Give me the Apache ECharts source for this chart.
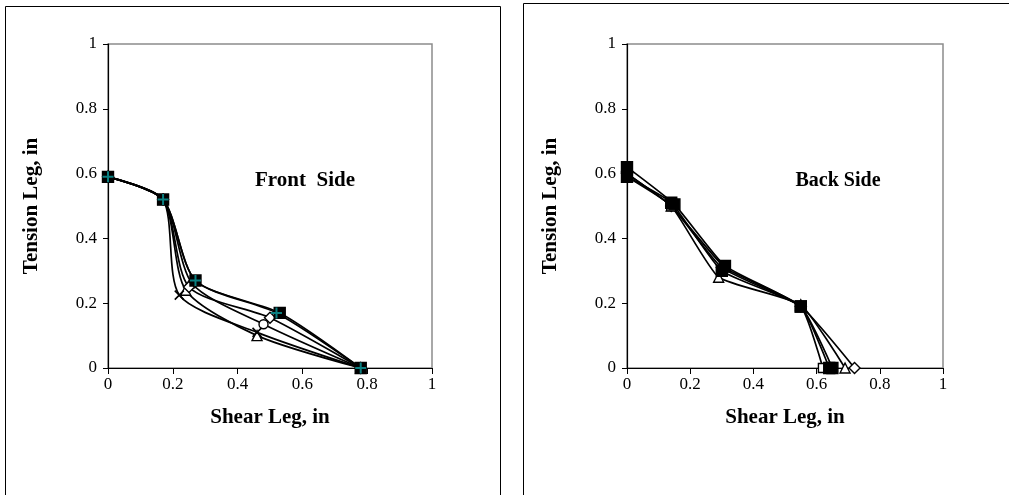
<!DOCTYPE html>
<html>
<head>
<meta charset="utf-8">
<script src="https://cdn.jsdelivr.net/npm/echarts@6/dist/echarts.min.js"></script>
<style>
  html, body { margin: 0; padding: 0; background: #fff; }
  #chart { width: 1009px; height: 495px; }
</style>
</head>
<body>
<div id="chart"></div>
<script>
// Weld leg measurements: shear leg vs tension leg (inches)
const axisTicks = [0, 0.2, 0.4, 0.6, 0.8, 1];

// Front side profiles
const frontDiamond = [[0, 0.59], [0.17, 0.52], [0.25, 0.25], [0.50, 0.155], [0.78, 0]];
const frontSquare  = [[0, 0.59], [0.17, 0.52], [0.27, 0.27], [0.53, 0.17], [0.78, 0]];
const frontTriangle = [[0, 0.59], [0.17, 0.52], [0.24, 0.24], [0.46, 0.10], [0.78, 0]];
const frontCross   = [[0, 0.59], [0.17, 0.52], [0.22, 0.225], [0.46, 0.11], [0.78, 0]];
const frontCircle  = [[0, 0.59], [0.17, 0.52], [0.26, 0.26], [0.48, 0.135], [0.78, 0]];
const frontPlus    = [[0, 0.59], [0.17, 0.52], [0.27, 0.27], [0.52, 0.17], [0.78, 0]];

// Back side profiles
const backDiamond  = [[0, 0.60], [0.14, 0.50], [0.30, 0.31], [0.55, 0.19], [0.72, 0]];
const backSquare   = [[0, 0.60], [0.14, 0.50], [0.31, 0.31], [0.55, 0.19], [0.62, 0]];
const backTriangle = [[0, 0.59], [0.14, 0.50], [0.29, 0.28], [0.55, 0.195], [0.69, 0]];
const backFilledA  = [[0, 0.62], [0.15, 0.505], [0.31, 0.315], [0.55, 0.19], [0.65, 0]];
const backFilledB  = [[0, 0.59], [0.14, 0.51], [0.30, 0.30], [0.55, 0.19], [0.64, 0]];

const TEXT_FONT = '"Liberation Serif", "Times New Roman", serif';
const crossPath = 'path://M-1,-1L1,1M-1,1L1,-1';
const plusPath = 'path://M-0.18,-1H0.18V-0.18H1V0.18H0.18V1H-0.18V0.18H-1V-0.18H-0.18Z';

function lineSeries(data, idx, symbol, opts) {
  opts = opts || {};
  return {
    type: 'line',
    xAxisIndex: idx,
    yAxisIndex: idx,
    data: data,
    smooth: opts.smooth == null ? 0.25 : opts.smooth,
    symbol: symbol,
    symbolSize: opts.size || 9,
    lineStyle: { color: '#000', width: 1.7 },
    itemStyle: {
      color: opts.fill || '#fff',
      borderColor: opts.stroke || '#000',
      borderWidth: opts.borderWidth == null ? 1.4 : opts.borderWidth
    },
    z: opts.z || 2,
    emphasis: { disabled: true },
    animation: false
  };
}

function makeXAxis(idx) {
  return {
    type: 'value', gridIndex: idx, min: 0, max: 1, interval: 0.2,
    name: 'Shear Leg, in', nameLocation: 'middle', nameGap: 39, nameMoveOverlap: false,
    nameTextStyle: { fontFamily: TEXT_FONT, fontWeight: 'bold', fontSize: 21, color: '#000' },
    axisLine: { show: true, onZero: false, lineStyle: { color: '#000', width: 1.2 } },
    axisTick: { show: true, inside: false, length: 6, lineStyle: { color: '#000' } },
    axisLabel: { fontFamily: TEXT_FONT, fontSize: 17, color: '#000', margin: 8,
      formatter: v => (axisTicks.indexOf(+v.toFixed(1)) >= 0 ? String(+v.toFixed(1)) : '') },
    splitLine: { show: false }
  };
}

function makeYAxis(idx) {
  return {
    type: 'value', gridIndex: idx, min: 0, max: 1, interval: 0.2,
    name: 'Tension Leg, in', nameLocation: 'middle', nameGap: 66, nameRotate: 90, nameMoveOverlap: false,
    nameTextStyle: { fontFamily: TEXT_FONT, fontWeight: 'bold', fontSize: 21, color: '#000' },
    axisLine: { show: true, onZero: false, lineStyle: { color: '#000', width: 1.2 } },
    axisTick: { show: true, inside: false, length: 5, lineStyle: { color: '#000' } },
    axisLabel: { fontFamily: TEXT_FONT, fontSize: 17, color: '#000', margin: 11,
      formatter: v => String(+v.toFixed(1)) },
    splitLine: { show: false }
  };
}

const chart = echarts.init(document.getElementById('chart'), null, { renderer: 'canvas' });

chart.setOption({
  backgroundColor: '#fff',
  animation: false,
  grid: [
    { left: 108, top: 44, width: 324, height: 324, show: true, borderColor: '#8c8c8c', borderWidth: 1.5, backgroundColor: 'transparent' },
    { left: 627, top: 44, width: 316, height: 324, show: true, borderColor: '#8c8c8c', borderWidth: 1.5, backgroundColor: 'transparent' }
  ],
  xAxis: [makeXAxis(0), makeXAxis(1)],
  yAxis: [makeYAxis(0), makeYAxis(1)],
  graphic: [
    { type: 'rect', shape: { x: 5.5, y: 6.5, width: 495, height: 500 }, style: { fill: 'none', stroke: '#000', lineWidth: 1 }, z: 0 },
    { type: 'rect', shape: { x: 523.5, y: 3.5, width: 490, height: 500 }, style: { fill: 'none', stroke: '#000', lineWidth: 1 }, z: 0 },
    { type: 'text', x: 305, y: 181, style: { text: 'Front  Side', font: 'bold 21px ' + TEXT_FONT, fill: '#000', align: 'center', verticalAlign: 'middle' }, z: 10 },
    { type: 'text', x: 838, y: 181, style: { text: 'Back Side', font: 'bold 20px ' + TEXT_FONT, fill: '#000', align: 'center', verticalAlign: 'middle' }, z: 10 }
  ],
  series: [
    lineSeries(frontTriangle, 0, 'triangle', { size: 10 }),
    lineSeries(frontCircle, 0, 'circle', { size: 9 }),
    lineSeries(frontDiamond, 0, 'diamond', { size: 11 }),
    lineSeries(frontCross, 0, crossPath, { size: 9, borderWidth: 1.6 }),
    lineSeries(frontSquare, 0, 'rect', { size: 11, fill: '#000', z: 3 }),
    lineSeries(frontPlus, 0, plusPath, { size: 11, fill: '#0a7f80', stroke: '#0a7f80', borderWidth: 0, z: 4 }),

    lineSeries(backDiamond, 1, 'diamond', { size: 11, smooth: 0.15 }),
    lineSeries(backSquare, 1, 'rect', { size: 9, smooth: 0.15 }),
    lineSeries(backTriangle, 1, 'triangle', { size: 10, smooth: 0.15 }),
    lineSeries(backFilledA, 1, 'rect', { size: 11, fill: '#000', z: 3, smooth: 0.15 }),
    lineSeries(backFilledB, 1, 'rect', { size: 11, fill: '#000', z: 3, smooth: 0.15 })
  ]
});
</script>
</body>
</html>
